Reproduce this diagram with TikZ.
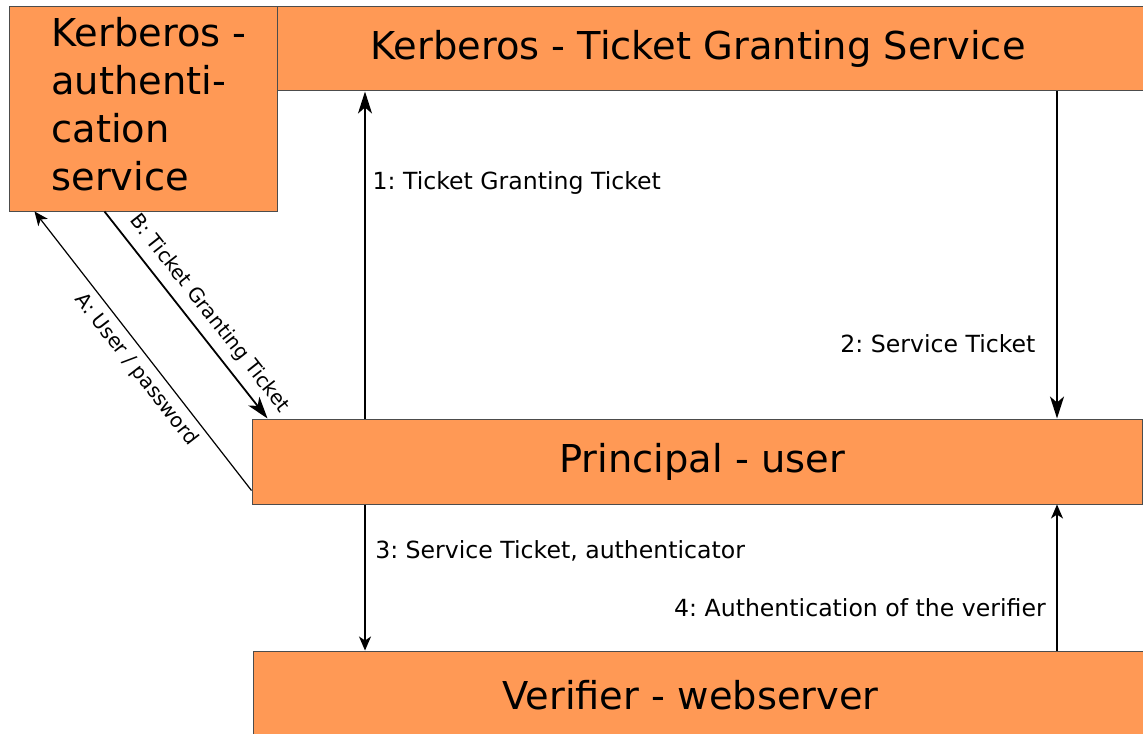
\documentclass[tikz,border=0pt]{standalone}
\usepackage{fontspec}
\setmainfont{DejaVu Sans}
\usetikzlibrary{arrows.meta}
\definecolor{boxorange}{HTML}{FF9955}
\frenchspacing

\begin{document}
\begin{tikzpicture}[x=0.5pt,y=-0.5pt,>=stealth,
  box/.style={draw=black!70, fill=boxorange, line width=0.5pt, inner sep=0pt,
    font=\fontsize{19.2}{24}\selectfont},
  bigflow/.style={line width=0.9pt, -{Stealth[length=11pt,width=7pt,inset=3pt]}},
  flow/.style={line width=0.6pt, -{Stealth[length=7pt,width=6pt,inset=2pt]}},
  lbl/.style={font=\fontsize{11.8}{14}\selectfont},
  slbl/.style={font=\fontsize{10}{12}\selectfont, sloped}]
\useasboundingbox (0,0) rectangle (1143,733);

% the four services
\node[box, minimum width=433pt, minimum height=42pt] (tgs) at (710,49)
  {\hspace*{-12pt}Kerberos - Ticket Granting Service};
\node[box, minimum width=134pt, minimum height=102pt] (auth) at (143,109)
  {\hspace*{6pt}\begin{tabular}{@{}l@{}}Kerberos -\\authenti-\\cation\\service\end{tabular}};
\node[box, minimum width=445pt, minimum height=42.5pt] (principal) at (697,461.5)
  {\hspace*{5pt}Principal - user};
\node[box, minimum width=448.5pt, minimum height=44.5pt] (verifier) at (701.5,695.5)
  {\hspace*{-11pt}Verifier - webserver};

\coordinate (lane1) at (365,0);
\coordinate (lane2) at (1057,0);

% tickets
\draw[bigflow] (principal.north -| lane1) -- (tgs.south -| lane1)
  node[lbl, pos=0.72, right] {1: Ticket Granting Ticket};
\draw[bigflow] (tgs.south -| lane2) -- (principal.north -| lane2)
  node[lbl, pos=0.77, left, xshift=-7pt] {2: Service Ticket};
\draw[flow] (principal.south -| lane1) -- (verifier.north -| lane1)
  node[lbl, pos=0.32, right, xshift=1.5pt] {3: Service Ticket, authenticator};
\draw[flow] (verifier.north -| lane2) -- (principal.south -| lane2)
  node[lbl, pos=0.29, left, xshift=-2pt] {4: Authentication of the verifier};

% login
\draw[flow] ([yshift=7pt]principal.south west) -- ([xshift=13pt]auth.south west)
  node[slbl, pos=0.47, below] {A: User / password};
\draw[bigflow] ([xshift=48pt]auth.south west) -- ([xshift=8pt]principal.north west)
  node[slbl, pos=0.55, above=1pt] {B: Ticket Granting Ticket};

\end{tikzpicture}
\end{document}
